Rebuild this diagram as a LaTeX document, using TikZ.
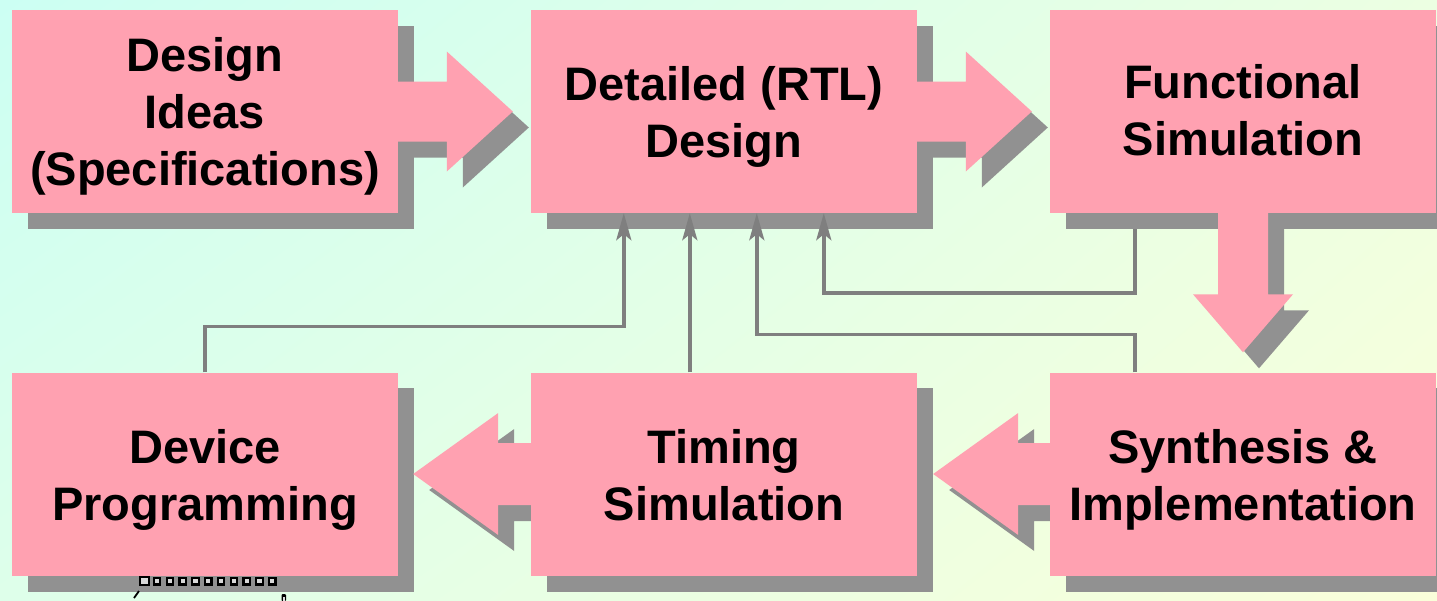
\documentclass[tikz,border=0pt]{standalone}
\usepackage{fontspec}
\setmainfont{Liberation Sans}
\usetikzlibrary{calc,arrows.meta,shadings}

\definecolor{pinkc}{RGB}{255,161,177}
\definecolor{shadowc}{RGB}{145,145,145}
\definecolor{connc}{RGB}{127,127,127}
\definecolor{bgTL}{RGB}{204,255,243}
\definecolor{bgTR}{RGB}{236,255,226}
\definecolor{bgBL}{RGB}{222,255,234}
\definecolor{bgBR}{RGB}{250,255,218}

\pgfdeclarelayer{bglayer}
\pgfdeclarelayer{shadowlayer}
\pgfdeclarelayer{arrowlayer}
\pgfsetlayers{bglayer,shadowlayer,arrowlayer,main}

% a filled block arrow with its offset grey shadow
\newcommand\blockarrow[1]{%
  \begin{pgfonlayer}{shadowlayer}
    \fill[shadowc, transform canvas={shift={(16pt,-16pt)}}] #1;
  \end{pgfonlayer}
  \begin{pgfonlayer}{arrowlayer}
    \fill[pinkc] #1;
  \end{pgfonlayer}}
% right-, left- and down-pointing block arrows from #1 (start) to #2 (tip)
\newcommand\rblock[2]{\blockarrow{($(#1)+(0,-30)$) -- ($(#2)+(-66,-30)$) -- ($(#2)+(-66,-60)$) -- (#2) -- ($(#2)+(-66,60)$) -- ($(#2)+(-66,30)$) -- ($(#1)+(0,30)$) -- cycle}}
\newcommand\lblock[2]{\blockarrow{($(#1)+(0,-31)$) -- ($(#2)+(85,-31)$) -- ($(#2)+(85,-61)$) -- (#2) -- ($(#2)+(85,61)$) -- ($(#2)+(85,31)$) -- ($(#1)+(0,31)$) -- cycle}}
\newcommand\dblock[2]{\blockarrow{($(#1)+(-25,0)$) -- ($(#2)+(-25,-58)$) -- ($(#2)+(-50,-58)$) -- (#2) -- ($(#2)+(50,-58)$) -- ($(#2)+(25,-58)$) -- ($(#1)+(25,0)$) -- cycle}}

\tikzset{
  stagebox/.style={rectangle, fill=pinkc, inner sep=0pt,
    minimum width=386pt, minimum height=203pt},
  stagetext/.style={inner sep=0pt, align=center,
    font=\bfseries\fontsize{47}{57}\selectfont},
  conn/.style={draw=connc, line width=3.5pt,
    -{Stealth[length=27pt,width=15pt,inset=6pt]}},
  pin/.style={draw=black, line width=2.2pt, fill=white!70!gray}
}

\begin{document}
\begin{tikzpicture}[x=1pt,y=-1pt]
\useasboundingbox (0,0) rectangle (1437,600);

\begin{pgfonlayer}{bglayer}
  \shade[upper left=bgTL, upper right=bgTR, lower left=bgBL, lower right=bgBR]
    (0,0) rectangle (1437,600);
\end{pgfonlayer}

% process stages
\node[stagebox] (b1) at (205,111.5) {};
\node[stagebox] (b2) at (724,111.5) {};
\node[stagebox] (b3) at (1243,111.5) {};
\node[stagebox] (b4) at (205,474) {};
\node[stagebox] (b5) at (724,474) {};
\node[stagebox] (b6) at (1243,474) {};
\node[stagetext] (l1) at ($(b1)+(0,5)$) {Design\\Ideas\\(Specifications)};
\node[stagetext] (l2) at ($(b2)+(0,5)$) {Detailed (RTL)\\Design};
\node[stagetext] (l3) at ($(b3)+(0,-1)$) {Functional\\Simulation};
\node[stagetext] (l4) at ($(b4)+(0,6)$) {Device\\Programming};
\node[stagetext] (l5) at ($(b5)+(0,1)$) {Timing\\Simulation};
\node[stagetext] (l6) at ($(b6)+(0,6)$) {Synthesis \&\\Implementation};

% box shadows
\begin{pgfonlayer}{shadowlayer}
  \foreach \b in {b1,b2,b3,b4,b5,b6}
    \fill[shadowc, transform canvas={shift={(16pt,-16pt)}}]
      (\b.north west) rectangle (\b.south east);
\end{pgfonlayer}

% block arrows between stages
\coordinate (s12) at ($(b1.east)+(-4,0)$);
\coordinate (t12) at ($(b2.west)+(-18,0)$);
\coordinate (s23) at ($(b2.east)+(-4,0)$);
\coordinate (t23) at ($(b3.west)+(-18,0)$);
\coordinate (s36) at ($(b3.south)+(0,-4)$);
\coordinate (t36) at ($(b6.north)+(0,-20)$);
\coordinate (s65) at ($(b6.west)+(4,0)$);
\coordinate (t65) at ($(b5.east)+(16,0)$);
\coordinate (s54) at ($(b5.west)+(4,0)$);
\coordinate (t54) at ($(b4.east)+(15,0)$);
\rblock{s12}{t12}
\rblock{s23}{t23}
\dblock{s36}{t36}
\lblock{s65}{t65}
\lblock{s54}{t54}

% feedback connectors into the RTL design stage
\coordinate (in1) at ($(b2.south west)+(93,0)$);
\coordinate (in2) at ($(b2.south west)+(159,0)$);
\coordinate (in3) at ($(b2.south west)+(226,0)$);
\coordinate (in4) at ($(b2.south west)+(293,0)$);
\coordinate (o2) at ($(b5.north west)+(159,0)$);
\coordinate (o3) at ($(b6.north west)+(85,0)$);
\coordinate (o4) at ($(b3.south west)+(85,16)$);
\draw[conn] (b4.north) -- ++(0,-46) -| (in1);
\draw[conn] (o2) -- (in2);
\draw[conn] (o3) -- ++(0,-38) -| (in3);
\draw[conn] (o4) -- ++(0,64) -| (in4);

% edge of a chip icon below the programming stage
\draw[pin] (140,577) rectangle (149,585);
\foreach \i in {1,...,10}
  \draw[pin] ({141+12.8*\i},578) rectangle ++(6.5,6.5);
\draw[black, line width=1.8pt] (134,598) -- (139,591);
\fill[black, rounded corners=1pt] (281.5,594) rectangle (286,601);
\fill[white!75!gray] (283,596.5) rectangle (284.5,601);
\end{tikzpicture}
\end{document}
